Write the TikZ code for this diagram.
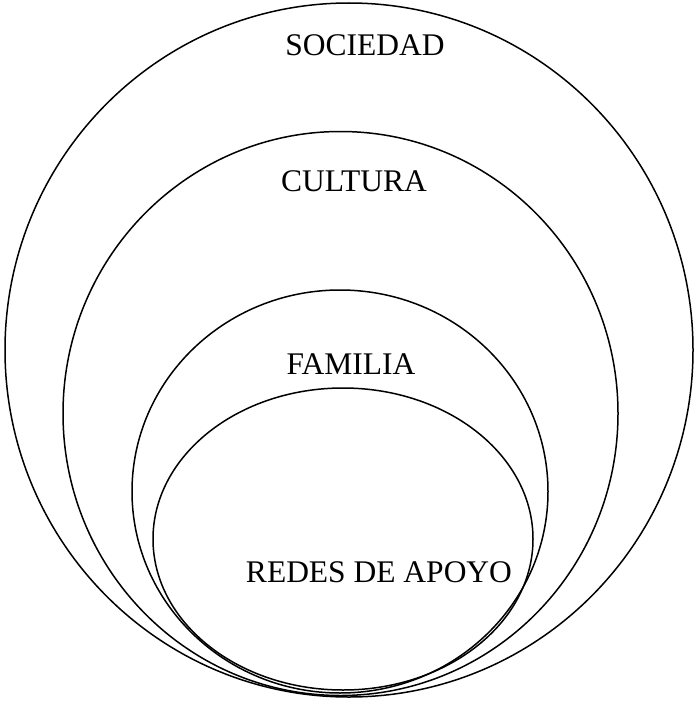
\documentclass[tikz,border=0pt]{standalone}
\usepackage{fontspec}
\setmainfont{Liberation Serif}

\begin{document}
\begin{tikzpicture}[x=1pt, y=-1pt, ring/.style={draw, line width=1.5pt}, etiqueta/.style={font=\fontsize{31.5}{31.5}\selectfont, inner sep=0pt}]
        \useasboundingbox (0, 0) rectangle (697, 701);

        \draw[ring] (349, 350) ellipse [x radius=344, y radius=347];
        \draw[ring] (340.5, 413.5) ellipse [x radius=277.5, y radius=282];
        \draw[ring] (340, 491.5) ellipse [x radius=208, y radius=201.5];
        \draw[ring] (343, 539) ellipse [x radius=190, y radius=151];

        \node[etiqueta] (sociedad) at (365, 45) {SOCIEDAD};
        \node[etiqueta] (cultura) at (354, 181) {CULTURA};
        \node[etiqueta] (familia) at (351, 364) {FAMILIA};
        \node[etiqueta] (redes) at (379, 572) {REDES DE APOYO};
    \end{tikzpicture}
\end{document}
